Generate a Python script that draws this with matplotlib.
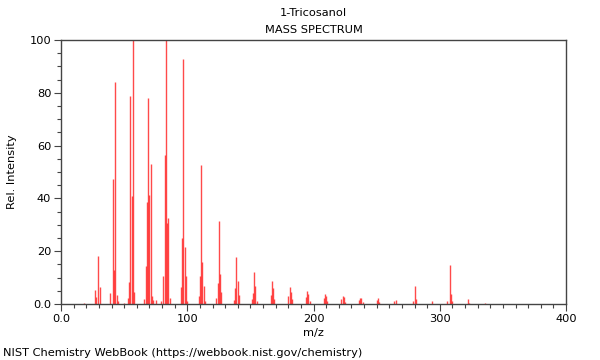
import matplotlib
matplotlib.use("Agg")
import matplotlib.pyplot as plt
from matplotlib.ticker import MultipleLocator, FuncFormatter

title = "1-Tricosanol"
subtitle = "MASS SPECTRUM"
footer = "NIST Chemistry WebBook (https://webbook.nist.gov/chemistry)"

mz = [18, 27, 28, 29, 31, 39, 41, 42, 43, 44, 45, 50, 53, 54, 55, 56, 57, 58,
      66, 67, 68, 69, 70, 71, 72, 73, 75, 79, 81, 82, 83, 84, 85, 86,
      95, 96, 97, 98, 99, 100, 109, 110, 111, 112, 113, 114,
      123, 124, 125, 126, 127, 137, 138, 139, 140, 141,
      151, 152, 153, 154, 155, 166, 167, 168, 169, 180, 181, 182, 183,
      194, 195, 196, 197, 208, 209, 210, 211, 222, 223, 224, 225,
      236, 237, 238, 239, 250, 251, 252, 264, 265, 279, 280, 281,
      294, 306, 308, 309, 310, 322, 323, 336]
intensity = [0.5, 5.3, 2.6, 18.0, 6.5, 4.0, 47.5, 13.0, 84.0, 3.4, 1.0, 0.5, 2.2, 8.3, 78.9, 41.0, 100.0, 4.7,
             2.0, 14.4, 38.5, 77.9, 41.3, 52.9, 3.0, 1.5, 1.5, 1.0, 10.6, 56.4, 100.0, 30.8, 32.5, 2.3,
             6.6, 25.0, 92.7, 21.6, 10.6, 1.0, 3.2, 10.6, 52.6, 15.8, 7.0, 1.0,
             2.4, 8.0, 31.5, 11.4, 4.7, 1.5, 6.2, 17.9, 8.7, 3.4,
             2.0, 4.0, 12.0, 6.8, 1.0, 3.4, 8.7, 5.9, 2.0, 3.0, 6.4, 4.5, 1.9,
             2.6, 4.9, 3.8, 1.3, 2.1, 3.8, 3.0, 1.0, 1.9, 3.0, 2.8, 0.8,
             1.5, 2.4, 2.4, 0.8, 1.4, 2.3, 0.8, 1.0, 1.5, 1.0, 7.0, 2.0,
             1.0, 1.0, 14.8, 3.8, 1.0, 1.9, 0.5, 0.5]

plt.rcParams['font.family'] = ['DejaVu Sans']
fs = 8.2
plt.rcParams['font.size'] = fs

fig = plt.figure(figsize=(6, 3.6), dpi=100)
ax = fig.add_axes([61/600, 1-304/360, 505/600, 264/360])

ax.vlines(mz, 0, intensity, colors='#ff2a2a', linewidth=1.0, alpha=0.85)

ax.set_xlim(0, 400)
ax.set_ylim(0, 100)
ax.xaxis.set_major_locator(MultipleLocator(100))
ax.xaxis.set_minor_locator(MultipleLocator(10))
ax.yaxis.set_major_locator(MultipleLocator(20))
ax.yaxis.set_minor_locator(MultipleLocator(5))
fmt = FuncFormatter(lambda v, p: "0.0" if v == 0 else f"{int(round(v))}")
ax.xaxis.set_major_formatter(fmt)
ax.yaxis.set_major_formatter(fmt)
ax.tick_params(which='major', direction='out', length=5, width=0.8, color='#444444', labelsize=fs, pad=2)
ax.tick_params(which='minor', direction='out', length=3, width=0.8, color='#444444')
for s in ax.spines.values():
    s.set_color('#444444')
    s.set_linewidth(1.0)

ax.set_xlabel("m/z", fontsize=fs, labelpad=3)
ax.set_ylabel("Rel. Intensity", fontsize=fs, labelpad=9)
fig.text(313.5/600, 1-13/360, title, ha='center', va='center', fontsize=fs)
fig.text(313.5/600, 1-30/360, subtitle, ha='center', va='center', fontsize=fs)
fig.text(3/600, 1-353/360, footer, ha='left', va='center', fontsize=fs)

fig.savefig("out.png", dpi=100)
